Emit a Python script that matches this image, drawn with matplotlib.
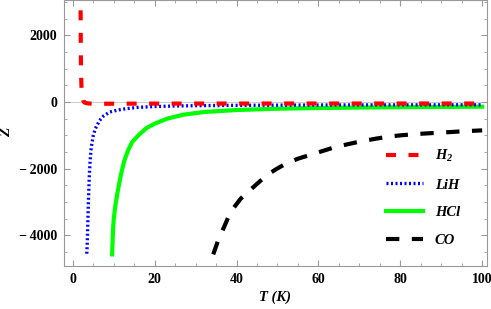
import matplotlib as mpl
mpl.use("Agg")
from matplotlib import pyplot as plt
from matplotlib.ticker import MultipleLocator, FuncFormatter
import numpy as np

# values
T_h2 = [1.9, 1.93, 1.96, 2.0, 2.1, 2.2, 2.35, 2.5, 2.8, 3.2, 4, 5, 7, 10, 20, 40, 60, 80, 100]
Z_h2 = [2750, 2000, 1400, 900, 500, 280, 130, 50, -10, -30, -45, -50, -52, -50, -48, -46, -45, -45, -45]

T_lih = [3.4, 3.5, 3.6, 3.8, 4.0, 4.2, 4.5, 5.0, 5.5, 6.5, 7.5, 9, 11, 13, 16, 20, 25, 30, 40, 50, 60, 70, 80, 90, 100]
Z_lih = [-4550, -4300, -3900, -3000, -2300, -1800, -1350, -1000, -800, -560, -420, -300, -240, -200,
         -160, -135, -120, -110, -100, -95, -90, -88, -86, -85, -84]

T_hcl = [9.6, 9.8, 10.0, 10.4, 11.0, 11.8, 12.6, 13.5, 14.5, 16, 18, 20, 23, 27, 32, 40, 50, 60, 70, 80, 90, 100]
Z_hcl = [-4570, -3900, -3500, -3100, -2650, -2150, -1750, -1450, -1200, -1000, -780, -650, -500, -380,
         -300, -240, -200, -180, -165, -155, -148, -140]

T_co = [34.3, 35.5, 36.8, 38, 39.2, 41, 43.3, 45.5, 47.4, 50, 52.2, 55, 57.9, 61, 63.6, 67, 70, 74, 77, 80,
        84, 88, 91, 95, 100]
Z_co = [-4570, -4150, -3790, -3450, -3190, -2900, -2640, -2400, -2190, -1990, -1840, -1700, -1590, -1470,
        -1370, -1270, -1190, -1100, -1040, -1000, -960, -930, -910, -880, -850]

SERIF = 'Liberation Serif'
plt.rcParams['font.family'] = [SERIF, 'DejaVu Serif']
plt.rcParams['font.weight'] = 'bold'
plt.rcParams['mathtext.fontset'] = 'custom'
plt.rcParams['mathtext.it'] = SERIF + ':italic:bold'
plt.rcParams['mathtext.rm'] = SERIF + ':italic:bold'

fig = plt.figure(figsize=(4.91, 3.09), dpi=100)
ax = fig.add_axes([0.130, 0.139, 0.862, 0.861])

ax.plot(T_co, Z_co, color='black', lw=3, dashes=(3.2, 3.0), label='CO', zorder=2)
ax.plot(T_hcl, Z_hcl, color='#00ff00', lw=3, label='HCl', zorder=3)
ax.plot(T_lih, Z_lih, color='blue', lw=2.4, dashes=(0.6, 0.75), label='LiH', zorder=4)
ax.plot(T_h2, Z_h2, color='red', lw=3, dashes=(2.4, 3.0), label='$H_2$', zorder=5)

def fmt(v, pos):
    if v < 0:
        return '\u2212\u2009%d' % (-v)
    return '%d' % v

ax.set_xlim(-2.2, 101.2)
ax.set_ylim(-4920, 3060)
ax.xaxis.set_major_locator(MultipleLocator(20))
ax.xaxis.set_minor_locator(MultipleLocator(5))
ax.yaxis.set_major_locator(MultipleLocator(2000))
ax.yaxis.set_minor_locator(MultipleLocator(500))
ax.yaxis.set_major_formatter(FuncFormatter(fmt))
ax.tick_params(which='both', direction='in', top=True, right=True, color='#999999',
               labelsize=10, pad=5)
ax.tick_params(which='major', length=4, width=0.8)
ax.tick_params(which='minor', length=2.5, width=0.6)
for lab in ax.get_xticklabels() + ax.get_yticklabels():
    lab.set_fontfamily(SERIF)
    lab.set_fontweight('bold')
for s in ax.spines.values():
    s.set_color('#999999')
    s.set_linewidth(0.8)
ax.axhline(0, color='#cccccc', lw=0.8, zorder=1)

ax.set_xlabel('T (K)', fontsize=10.5, style='italic', fontweight='bold', family=SERIF, labelpad=3)
ax.set_ylabel('Z', fontsize=11, style='italic', fontweight='bold', family=SERIF)
ax.yaxis.set_label_coords(-0.12, 0.504)

# legend order as in the reference
h, l = ax.get_legend_handles_labels()
order = [3, 2, 1, 0]
ax.legend([h[i] for i in order], [l[i] for i in order], loc='lower right', frameon=False,
          prop={'family': SERIF, 'style': 'italic', 'weight': 'bold', 'size': 10.5},
          handlelength=2.5, handletextpad=0.82, labelspacing=1.0,
          borderaxespad=0.0, bbox_to_anchor=(0.95, 0.049))

fig.savefig('out.png', dpi=100)
